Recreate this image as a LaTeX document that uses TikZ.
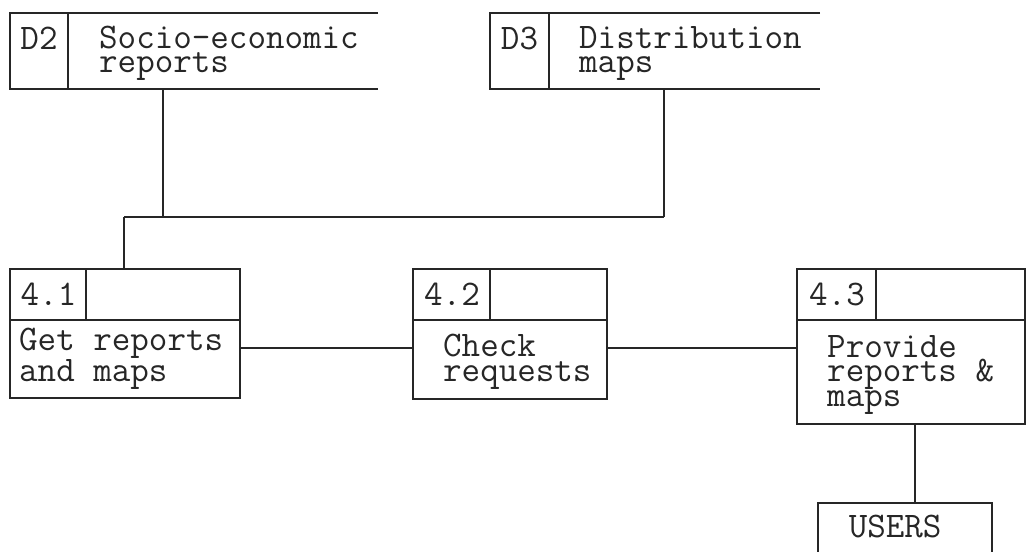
\documentclass[tikz,border=0pt]{standalone}
\usepackage{fontspec}
\newcommand\dfdfont{\ttfamily\fontsize{36}{24.5}\selectfont}
\tikzset{
  ln/.style={line width=1.6pt, draw=black!85},
  pbox/.style={ln, draw, rectangle, inner sep=0pt},
  txt/.style={font=\dfdfont, inner sep=0pt, anchor=base west, align=left, text=black!85},
  num/.style={font=\dfdfont, inner sep=0pt, anchor=base, text=black!85},
}
\begin{document}
\begin{tikzpicture}[x=1pt,y=-1pt]
\useasboundingbox (0,0) rectangle (1027,551);
\clip (0,0) rectangle (1027,551);
% data stores
\node[inner sep=0pt, minimum width=368pt, minimum height=76pt] (d2) at (194,51) {};
\draw[ln] (d2.north east) -- (d2.north west) -- (d2.south west) -- (d2.south east);
\draw[ln] ([xshift=58pt]d2.north west) -- ([xshift=58pt]d2.south west);
\node[num] (d2id) at (39,50) {D2};
\node[txt] (d2t) at (99,73) {Socio-economic\\reports};

\node[inner sep=0pt, minimum width=330pt, minimum height=76pt] (d3) at (655,51) {};
\draw[ln] (d3.north east) -- (d3.north west) -- (d3.south west) -- (d3.south east);
\draw[ln] ([xshift=59pt]d3.north west) -- ([xshift=59pt]d3.south west);
\node[num] (d3id) at (519.5,50) {D3};
\node[txt] (d3t) at (579,73) {Distribution\\maps};

% processes
\node[pbox, minimum width=230pt, minimum height=129pt] (p1) at (125,333.5) {};
\draw[ln] ([yshift=-52pt]p1.north west) -- ([yshift=-52pt]p1.north east);
\draw[ln] ([xshift=77pt]p1.north west) -- ++(0,52);
\node[num] (p1id) at (48.5,305) {4.1};
\node[txt] (p1t) at (19,381) {Get reports\\and maps};

\node[pbox, minimum width=194pt, minimum height=130pt] (p2) at (510,334) {};
\draw[ln] ([yshift=-52pt]p2.north west) -- ([yshift=-52pt]p2.north east);
\draw[ln] ([xshift=78pt]p2.north west) -- ++(0,52);
\node[num] (p2id) at (452,305) {4.2};
\node[txt] (p2t) at (443,381) {Check\\requests};

\node[pbox, minimum width=228pt, minimum height=155pt] (p3) at (911,346.5) {};
\draw[ln] ([yshift=-52pt]p3.north west) -- ([yshift=-52pt]p3.north east);
\draw[ln] ([xshift=80pt]p3.north west) -- ++(0,52);
\node[num] (p3id) at (837,305) {4.3};
\node[txt] (p3t) at (827,406) {Provide\\reports \&\\maps};

% external entity
\node[pbox, anchor=north west, inner xsep=31pt, inner ysep=10pt, text width=112pt,
      text height=25pt, text depth=45pt, align=left, font=\dfdfont, text=black!85] (users) at (817,502) {USERS};

% connectors
\coordinate (j1) at (124,217);
\coordinate (j2) at (163,217);
\coordinate (j3) at (664,217);
\coordinate (h) at (0,348);
\coordinate (v) at (915,0);
\draw[ln] (d2.south -| j2) -- (j2);
\draw[ln] (d3.south -| j3) -- (j3);
\draw[ln] (j1) -- (j3);
\draw[ln] (j1) -- (p1.north -| j1);
\draw[ln] (p1.east |- h) -- (p2.west |- h);
\draw[ln] (p2.east |- h) -- (p3.west |- h);
\draw[ln] (p3.south -| v) -- (users.north -| v);
\end{tikzpicture}
\end{document}
